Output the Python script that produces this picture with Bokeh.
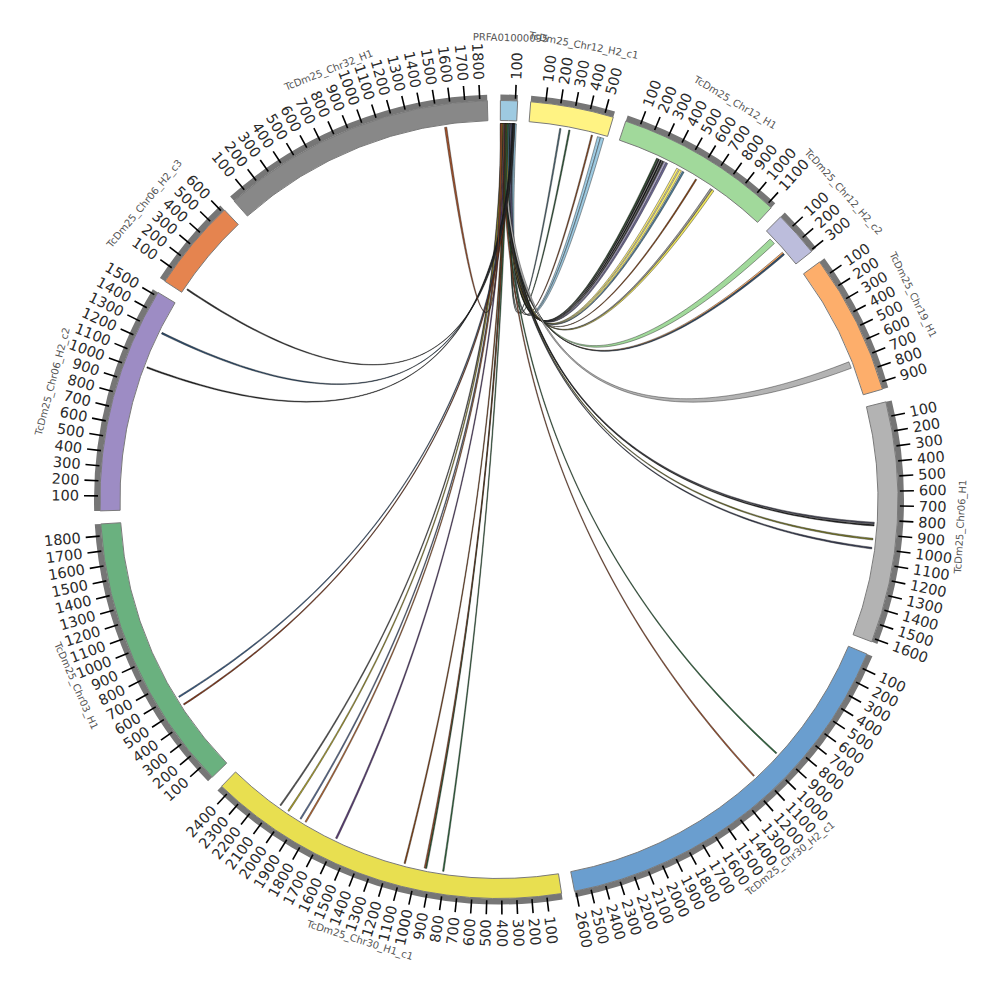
import numpy as np
from bokeh.plotting import figure
from bokeh.models import Range1d, ColumnDataSource
from bokeh.embed import file_html
from bokeh.resources import INLINE
from bokeh.core.properties import value

# ---------------- data ----------------
chrom_names = ["PRFA01000095", "TcDm25_Chr12_H2_c1", "TcDm25_Chr12_H1", "TcDm25_Chr12_H2_c2",
               "TcDm25_Chr19_H1", "TcDm25_Chr06_H1", "TcDm25_Chr30_H2_c1", "TcDm25_Chr30_H1_c1",
               "TcDm25_Chr03_H1", "TcDm25_Chr06_H2_c2", "TcDm25_Chr06_H2_c3", "TcDm25_Chr32_H1"]
chrom_lengths = [115, 560, 1135, 310, 950, 1625, 2610, 2460, 1880, 1525, 620, 1850]
chrom_colors = ["#9ecae1", "#fff383", "#a1d99b", "#bcbddc", "#fdae6b", "#b3b3b3",
                "#6a9ecf", "#e8df50", "#6ab17f", "#9d8cc4", "#e5844f", "#888888"]

# links: all from PRFA01000095 (index 0) to a target chromosome
link_src_start = [90, 84, 76, 96, 102, 56, 60, 64, 68, 72, 76, 46, 52, 56, 42, 38, 40, 28, 22, 26, 16,
                  10, 6, 2, 0, 18, 14, 4, 8, 20, 24, 30, 34, 36, 42, 46, 82, 88, 90, 84, 94, 0]
link_src_end = [100, 94, 86, 108, 114, 66, 70, 74, 78, 82, 86, 58, 64, 66, 52, 50, 54, 46, 32, 34, 38,
                20, 16, 12, 10, 28, 24, 14, 18, 30, 34, 40, 44, 46, 52, 56, 92, 98, 100, 94, 104, 12]
link_tgt_chrom = [1, 1, 1, 1, 1, 2, 2, 2, 2, 2, 2, 2, 2, 2, 2, 2, 2, 3, 3, 3, 4,
                  5, 5, 5, 5, 6, 6, 7, 7, 7, 7, 7, 7, 7, 7, 7, 8, 8, 9, 9, 10, 11]
link_tgt_start = [219, 284, 447, 492, 515, 290, 303, 319, 335, 349, 364, 449, 471, 495, 602, 726, 741, 58, 185, 197, 698,
                  817, 833, 931, 995, 907, 1132, 2061, 1992, 1890, 1848, 1601, 1087, 932, 941, 809, 571, 507, 1287, 1024, 33, 1542]
link_tgt_end = [229, 294, 457, 514, 539, 301, 314, 331, 347, 362, 377, 464, 488, 508, 612, 741, 757, 102, 197, 209, 746,
                829, 844, 943, 1007, 917, 1142, 2071, 2002, 1900, 1858, 1613, 1097, 942, 951, 819, 581, 517, 1299, 1034, 43, 1558]
link_colors = ["#4f6d7a", "#2f5d3a", "#8c4a22", "#9ecae1", "#9ecae1", "#2f4f2f", "#222222", "#1a1a1a", "#3b3b3b",
               "#b9b1d6", "#6f6a9a", "#fff176", "#f5ec6e", "#4f7f9a", "#8b4513", "#9a9a9a", "#f0e65a",
               "#a1d99b", "#fdae6b", "#2f4f6f", "#b3b3b3", "#4a4a5a", "#222222", "#7a7a2a", "#3a3f55",
               "#2e6b3e", "#a0522d", "#555555", "#b5a82a", "#5a6f9a", "#c06a30", "#5c3d7a", "#8b4513",
               "#2e6b3e", "#a0522d", "#2e6b3e", "#3b5f8a", "#8b3a1a", "#2f4f6f", "#222222", "#333333", "#a0522d"]
tick_step = 100

# ---------------- layout ----------------
n = len(chrom_names)
GAP = 1.88
START = 89.8
total = sum(chrom_lengths)
scale = (360.0 - GAP * n) / total
seg_start = []
acc = 0
for i, L in enumerate(chrom_lengths):
    seg_start.append(START - acc * scale - i * GAP)
    acc += L
seg_end = [s - L * scale for s, L in zip(seg_start, chrom_lengths)]


def ang(i, pos):
    return np.deg2rad(seg_start[i] - pos * scale)


R_LINK, R_IN, R_MID, R_OUT = 376, 379, 399, 405
R_T0, R_T1, R_LAB, R_NAME = 401, 415, 420, 462

p = figure(frame_width=984, frame_height=984, x_range=Range1d(-498.5, 485.5), y_range=Range1d(-485, 499),
           output_backend="svg", toolbar_location=None, min_border=0,
           x_axis_location=None, y_axis_location=None)
p.grid.visible = False
p.outline_line_color = None
p.background_fill_color = "white"

# ---------------- links ----------------
tt = np.linspace(0, 1, 90)


def bez(a, b):
    x0, y0 = R_LINK * np.cos(a), R_LINK * np.sin(a)
    x2, y2 = R_LINK * np.cos(b), R_LINK * np.sin(b)
    return (1 - tt) ** 2 * x0 + tt ** 2 * x2, (1 - tt) ** 2 * y0 + tt ** 2 * y2


def arc(a, b):
    t = np.linspace(a, b, 12)
    return R_LINK * np.cos(t), R_LINK * np.sin(t)


lxs, lys = [], []
for k in range(len(link_colors)):
    a0, a1 = ang(0, link_src_start[k]), ang(0, link_src_end[k])
    t = link_tgt_chrom[k]
    b0, b1 = ang(t, link_tgt_start[k]), ang(t, link_tgt_end[k])
    parts = [arc(a0, a1), bez(a1, b0), arc(b0, b1), bez(b1, a0)]
    lxs.append(np.concatenate([q[0] for q in parts]).tolist())
    lys.append(np.concatenate([q[1] for q in parts]).tolist())
p.patches(xs=lxs, ys=lys, fill_color=link_colors, line_color="#111111", line_width=0.4)

# ---------------- ideogram ----------------
ideo = ColumnDataSource(dict(start=np.deg2rad(seg_start), end=np.deg2rad(seg_end), color=chrom_colors))
p.annular_wedge(x=0, y=0, inner_radius=R_MID, outer_radius=R_OUT, start_angle="start", end_angle="end",
                direction="clock", source=ideo, fill_color="#767676", line_color=None)
p.annular_wedge(x=0, y=0, inner_radius=R_IN, outer_radius=R_MID, start_angle="start", end_angle="end",
                direction="clock", source=ideo, fill_color="color", line_color="#7a7a7a", line_width=1)

# ---------------- ticks ----------------
tx0, ty0, tx1, ty1 = [], [], [], []
lx, ly, lt, la, lal = [], [], [], [], []
for i, L in enumerate(chrom_lengths):
    for v in range(tick_step, L + 1, tick_step):
        a = ang(i, v)
        tx0.append(R_T0 * np.cos(a)); ty0.append(R_T0 * np.sin(a))
        tx1.append(R_T1 * np.cos(a)); ty1.append(R_T1 * np.sin(a))
        lx.append(R_LAB * np.cos(a)); ly.append(R_LAB * np.sin(a))
        lt.append(str(v))
        if np.cos(a) >= 0:
            la.append(a); lal.append("left")
        else:
            la.append(a + np.pi); lal.append("right")
p.segment(x0=tx0, y0=ty0, x1=tx1, y1=ty1, line_color="black", line_width=1.6)
p.text(x=lx, y=ly, text=lt, angle=la, text_align=lal, text_baseline="middle",
       text_font=value("DejaVu Sans"), text_font_size="14.5px", text_color="#2a2a2a")

# ---------------- names ----------------
nx, ny, na = [], [], []
for i in range(n):
    m = np.deg2rad((seg_start[i] + seg_end[i]) / 2)
    nx.append(R_NAME * np.cos(m)); ny.append(R_NAME * np.sin(m))
    na.append(m - np.pi / 2 if np.sin(m) >= 0 else m + np.pi / 2)
p.text(x=nx, y=ny, text=chrom_names, angle=na, text_align="center", text_baseline="middle",
       text_font=value("DejaVu Sans"), text_font_size="10px", text_color="#555555")

open("out.html", "w").write(file_html(p, INLINE))
